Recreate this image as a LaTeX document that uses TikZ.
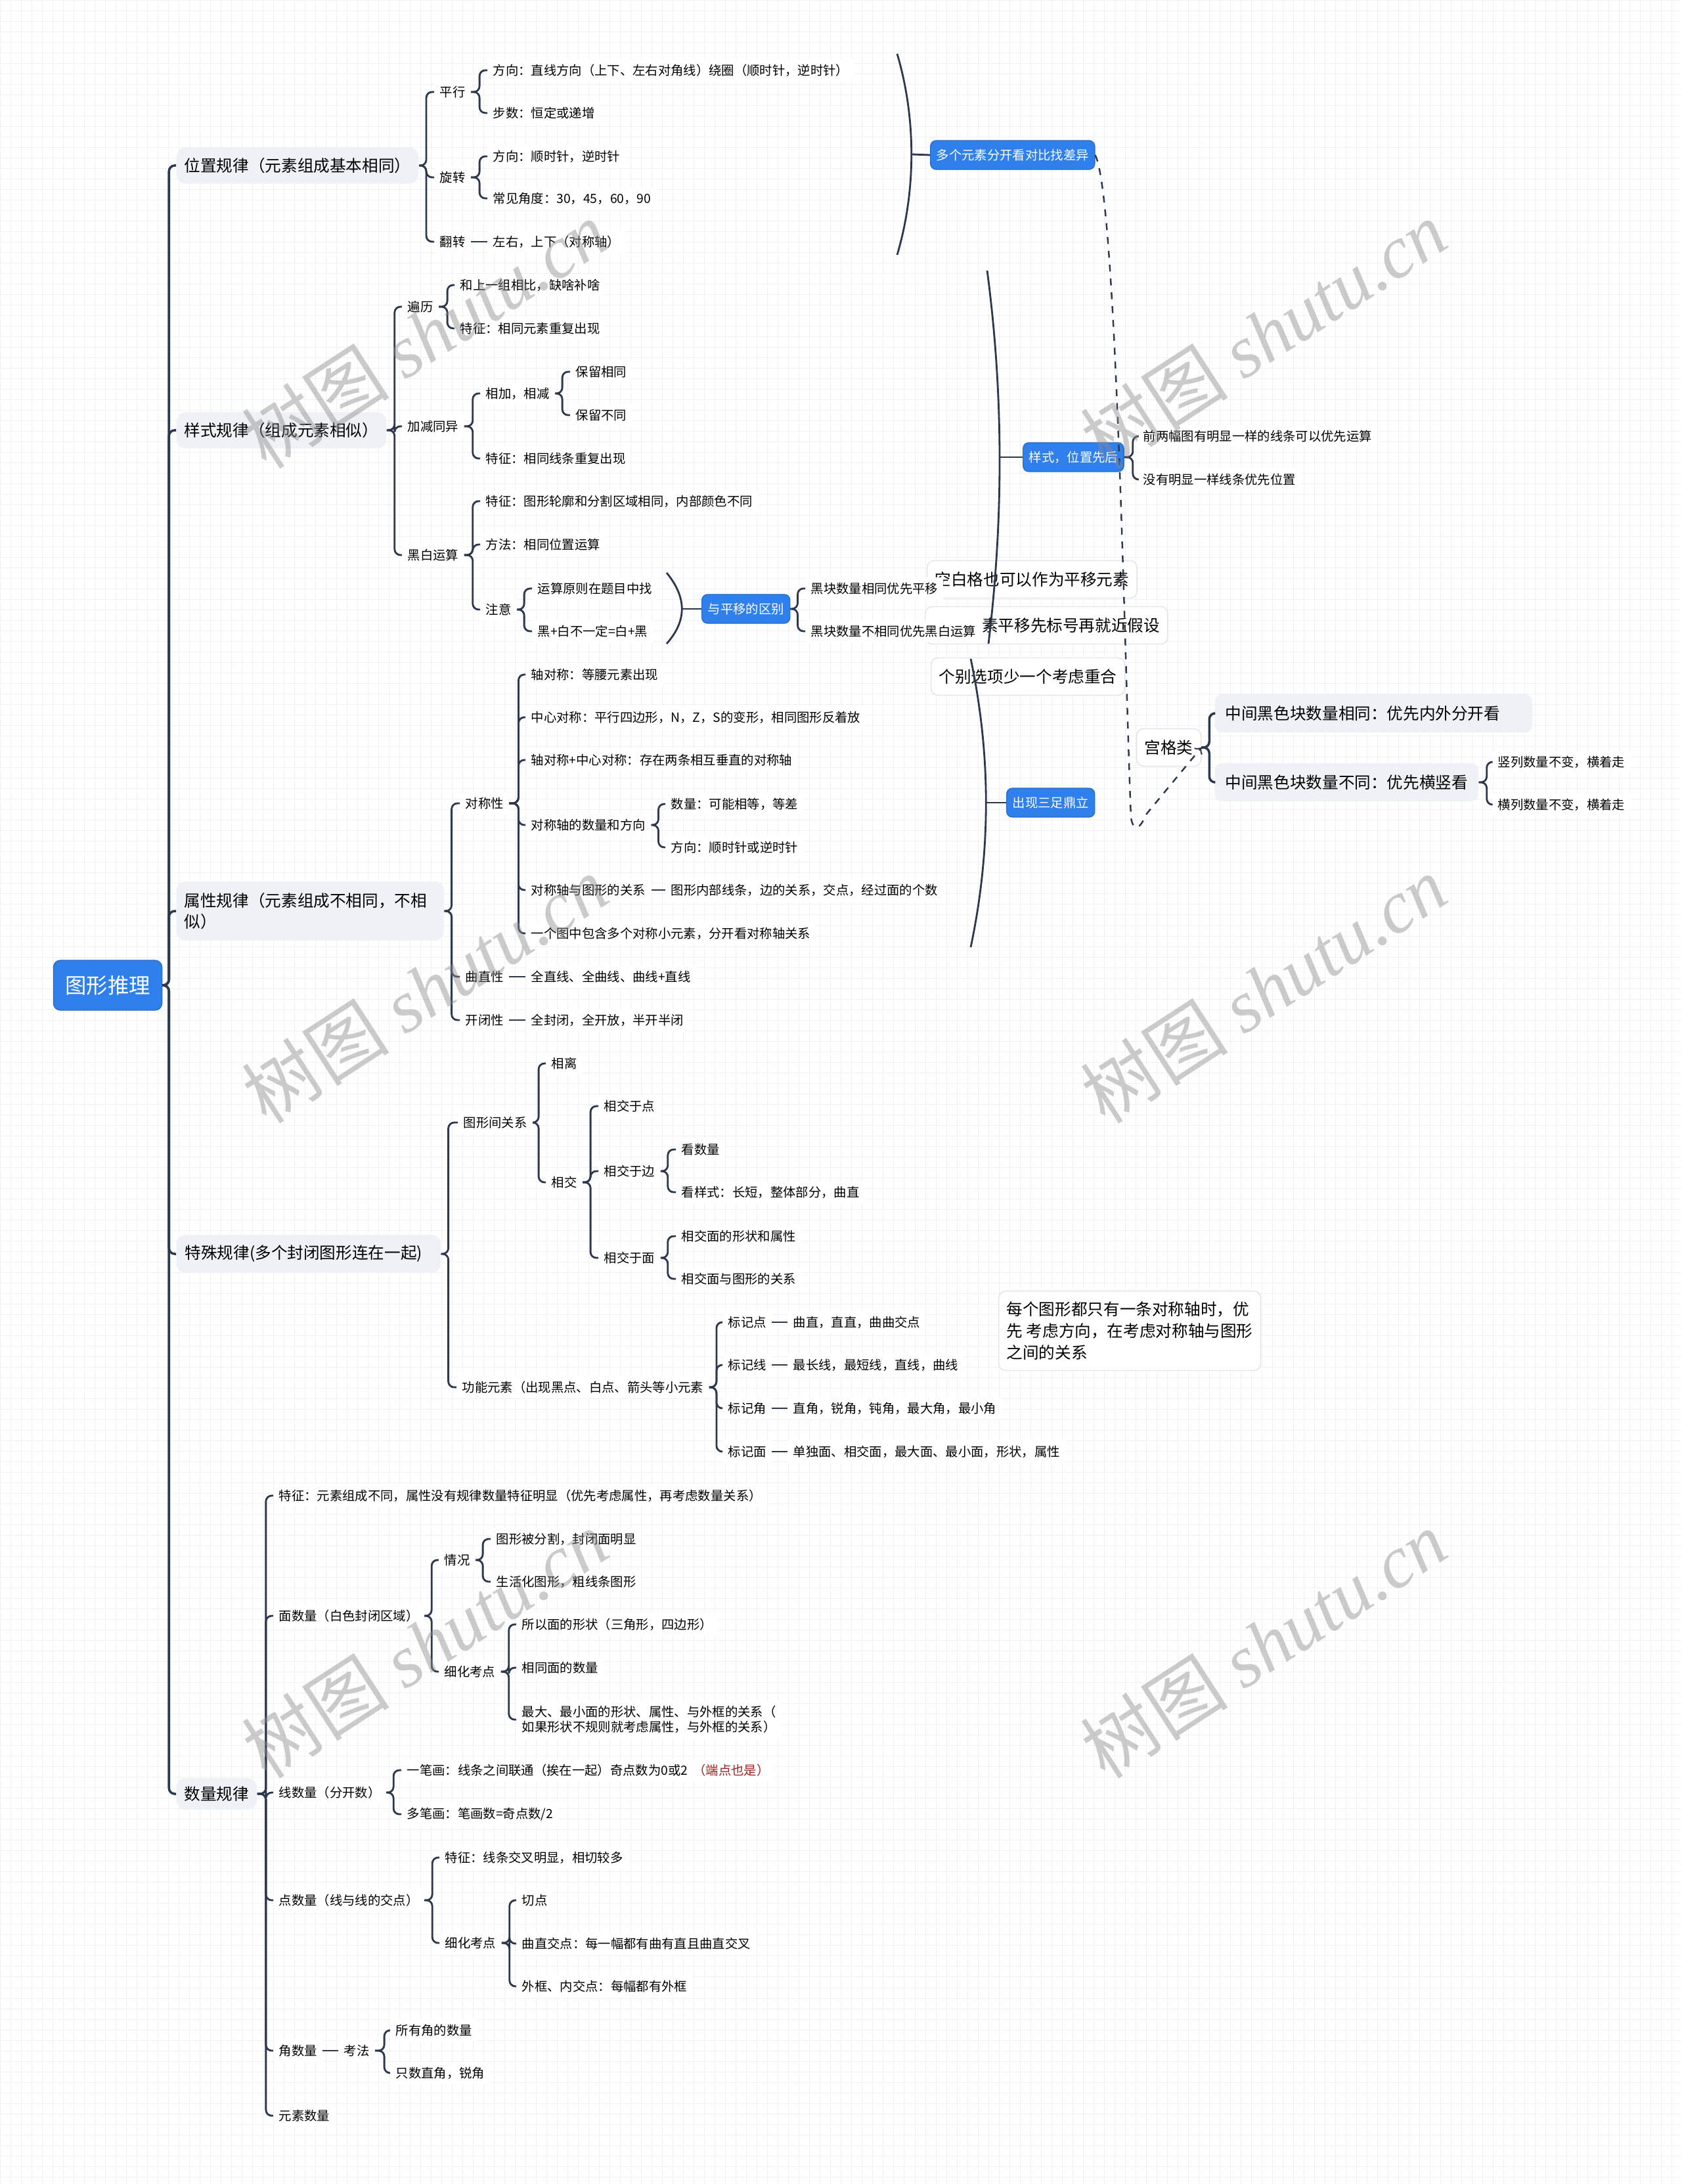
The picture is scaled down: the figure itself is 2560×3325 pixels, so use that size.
\documentclass[tikz,border=0pt]{standalone}
\usepackage{fontspec}
\setmainfont{Noto Sans CJK SC}
\newfontfamily\markfont{Liberation Serif}
\usepackage{xcolor}

\definecolor{mblue}{RGB}{47,128,237}
\definecolor{mgray}{RGB}{238,241,245}
\definecolor{mline}{RGB}{44,56,78}
\definecolor{mrim}{RGB}{224,228,234}
\definecolor{mgrid}{RGB}{239,241,244}
\definecolor{mred}{RGB}{165,30,30}

\tikzset{
  rootbox/.style={fill=mblue, draw=mblue!85!black, rounded corners=3pt, text=white,
    font=\fontsize{9.2}{11}\selectfont, minimum width=1.65cm, minimum height=0.76cm, inner sep=0pt},
  topic/.style={anchor=west, fill=mgray, rounded corners=4pt, font=\fontsize{7}{9}\selectfont,
    inner xsep=0.12cm, minimum height=0.55cm},
  leaf/.style={anchor=west, fill=white, font=\fontsize{5.5}{6.5}\selectfont, inner xsep=0.08cm, inner ysep=0.08cm},
  bluebox/.style={anchor=west, fill=mblue, draw=mblue!85!black, rounded corners=2.5pt, text=white,
    font=\fontsize{5.5}{6.5}\selectfont, inner xsep=0.09cm, minimum height=0.44cm},
  midbox/.style={anchor=west, fill=mgray, rounded corners=3pt, font=\fontsize{7}{9}\selectfont,
    inner xsep=0.16cm, minimum height=0.58cm},
  notebox/.style={anchor=west, fill=white, draw=mrim, rounded corners=3pt, font=\fontsize{7}{9.4}\selectfont,
    inner xsep=0.12cm, minimum height=0.57cm},
  branch/.style={draw=mline, line width=0.8pt, rounded corners=2.5pt},
  spine/.style={branch, line width=1pt},
  sumline/.style={draw=mline, line width=0.8pt},
  markword/.style={rotate=33, text=black!45, text opacity=0.45, font=\fontsize{32}{32}\selectfont}
}

\begin{document}
\begin{tikzpicture}[x=0.01cm,y=-0.01cm]
\useasboundingbox (0,0) rectangle (2560,3325);
\fill[white] (0,0) rectangle (2560,3325);
\draw[mgrid, line width=0.2pt, step=0.16cm] (0,3325) grid (2560,0);

% notes lying under the map
\node[notebox] (tip1) at (1411,882) {空白格也可以作为平移元素};
\node[notebox, text width=3.45cm, align=right] (tip2) at (1408,952) {素平移先标号再就近假设};
\node[notebox] (tip3) at (1417,1030) {个别选项少一个考虑重合};
\node[notebox, align=left, inner ysep=0.16cm] (tip4) at (1520,2026) {每个图形都只有一条对称轴时，优\\先 考虑方向，在考虑对称轴与图形\\之间的关系};

% root and main topics
\node[rootbox] (root) at (164,1500) {图形推理};
\node[topic] (pos) at (268,252) {位置规律（元素组成基本相同）};
\node[topic] (sty) at (268,655) {样式规律（组成元素相似）};
\node[topic, text width=3.83cm, align=left, minimum height=0.9cm] (attr) at (268,1387) {属性规律（元素组成不相同，不相\\似）};
\node[topic, text width=3.76cm, align=left, inner xsep=0.13cm, minimum height=0.58cm] (spec) at (268,1909) {特殊规律(多个封闭图形连在一起)};
\node[topic, minimum height=0.48cm] (num) at (268,2731) {数量规律};

% position
\node[leaf] (pingxing) at (661,140) {平行};
\node[leaf] (px1) at (742,107) {方向：直线方向（上下、左右对角线）绕圈（顺时针，逆时针）};
\node[leaf] (px2) at (742,172) {步数：恒定或递增};
\node[leaf] (xuanzhuan) at (661,270) {旋转};
\node[leaf] (xz1) at (742,238) {方向：顺时针，逆时针};
\node[leaf] (xz2) at (742,302) {常见角度：30，45，60，90};
\node[leaf] (fanzhuan) at (661,368) {翻转};
\node[leaf] (fz1) at (742,368) {左右，上下（对称轴）};
\node[bluebox] (split) at (1416,236) {多个元素分开看对比找差异};

% style
\node[leaf] (bianli) at (612,467) {遍历};
\node[leaf] (bl1) at (692,434) {和上一组相比，缺啥补啥};
\node[leaf] (bl2) at (692,500) {特征：相同元素重复出现};
\node[leaf] (jiajian) at (612,649) {加减同异};
\node[leaf] (jj1) at (731,599) {相加，相减};
\node[leaf] (jj11) at (868,566) {保留相同};
\node[leaf] (jj12) at (868,632) {保留不同};
\node[leaf] (jj2) at (731,698) {特征：相同线条重复出现};
\node[leaf] (heibai) at (612,845) {黑白运算};
\node[leaf] (hb1) at (731,763) {特征：图形轮廓和分割区域相同，内部颜色不同};
\node[leaf] (hb2) at (731,829) {方法：相同位置运算};
\node[leaf] (hb3) at (731,928) {注意};
\node[leaf] (hb31) at (810,896) {运算原则在题目中找};
\node[leaf] (hb32) at (810,961) {黑+白不一定=白+黑};
\node[bluebox] (diff) at (1068,927) {与平移的区别};
\node[leaf] (df1) at (1226,896) {黑块数量相同优先平移};
\node[leaf] (df2) at (1226,961) {黑块数量不相同优先黑白运算};
\node[bluebox] (order) at (1557,696) {样式，位置先后};
\node[leaf] (od1) at (1732,664) {前两幅图有明显一样的线条可以优先运算};
\node[leaf] (od2) at (1732,730) {没有明显一样线条优先位置};

% attribute
\node[leaf] (sym) at (700,1223) {对称性};
\node[leaf] (sym1) at (800,1027) {轴对称：等腰元素出现};
\node[leaf] (sym2) at (800,1092) {中心对称：平行四边形，N，Z，S的变形，相同图形反着放};
\node[leaf] (sym3) at (800,1157) {轴对称+中心对称：存在两条相互垂直的对称轴};
\node[leaf] (sym4) at (800,1256) {对称轴的数量和方向};
\node[leaf] (sym41) at (1013,1224) {数量：可能相等，等差};
\node[leaf] (sym42) at (1013,1290) {方向：顺时针或逆时针};
\node[leaf] (sym5) at (800,1355) {对称轴与图形的关系};
\node[leaf] (sym51) at (1013,1355) {图形内部线条，边的关系，交点，经过面的个数};
\node[leaf] (sym6) at (800,1421) {一个图中包含多个对称小元素，分开看对称轴关系};
\node[leaf] (curve) at (700,1487) {曲直性};
\node[leaf] (curve1) at (800,1487) {全直线、全曲线、曲线+直线};
\node[leaf] (closed) at (700,1553) {开闭性};
\node[leaf] (closed1) at (800,1553) {全封闭，全开放，半开半闭};
\node[bluebox] (tripod) at (1532,1222) {出现三足鼎立};
\node[notebox, minimum height=0.57cm] (gongge) at (1730,1138) {宫格类};
\node[midbox, text width=4.51cm] (gg1) at (1849,1086) {中间黑色块数量相同：优先内外分开看};
\node[midbox] (gg2) at (1849,1191) {中间黑色块数量不同：优先横竖看};
\node[leaf] (gg21) at (2272,1160) {竖列数量不变，横着走};
\node[leaf] (gg22) at (2272,1225) {横列数量不变，横着走};

% special
\node[leaf] (rel) at (697,1709) {图形间关系};
\node[leaf] (apart) at (831,1619) {相离};
\node[leaf] (cross) at (831,1800) {相交};
\node[leaf] (crp) at (911,1684) {相交于点};
\node[leaf] (cre) at (911,1783) {相交于边};
\node[leaf] (cre1) at (1029,1750) {看数量};
\node[leaf] (cre2) at (1029,1815) {看样式：长短，整体部分，曲直};
\node[leaf] (crf) at (911,1915) {相交于面};
\node[leaf] (crf1) at (1029,1882) {相交面的形状和属性};
\node[leaf] (crf2) at (1029,1947) {相交面与图形的关系};
\node[leaf] (func) at (695,2112) {功能元素（出现黑点、白点、箭头等小元素};
\node[leaf] (mk1) at (1100,2013) {标记点};
\node[leaf] (mk1a) at (1199,2013) {曲直，直直，曲曲交点};
\node[leaf] (mk2) at (1100,2078) {标记线};
\node[leaf] (mk2a) at (1199,2078) {最长线，最短线，直线，曲线};
\node[leaf] (mk3) at (1100,2144) {标记角};
\node[leaf] (mk3a) at (1199,2144) {直角，锐角，钝角，最大角，最小角};
\node[leaf] (mk4) at (1100,2210) {标记面};
\node[leaf] (mk4a) at (1199,2210) {单独面、相交面，最大面、最小面，形状，属性};

% number
\node[leaf] (qfeat) at (416,2277) {特征：元素组成不同，属性没有规律数量特征明显（优先考虑属性，再考虑数量关系）};
\node[leaf] (qarea) at (416,2460) {面数量（白色封闭区域）};
\node[leaf] (qcase) at (668,2375) {情况};
\node[leaf] (qcase1) at (747,2343) {图形被分割，封闭面明显};
\node[leaf] (qcase2) at (747,2408) {生活化图形，粗线条图形};
\node[leaf] (qdet) at (668,2545) {细化考点};
\node[leaf] (qdet1) at (786,2473) {所以面的形状（三角形，四边形）};
\node[leaf] (qdet2) at (786,2539) {相同面的数量};
\node[leaf, align=left] (qdet3) at (786,2618) {最大、最小面的形状、属性、与外框的关系（\\如果形状不规则就考虑属性，与外框的关系）};
\node[leaf] (qline) at (416,2729) {线数量（分开数）};
\node[leaf] (qline1) at (611,2695) {一笔画：线条之间联通（挨在一起）奇点数为0或2\hspace{0.08cm}\textcolor{mred}{（端点也是）}};
\node[leaf] (qline2) at (611,2762) {多笔画：笔画数=奇点数/2};
\node[leaf] (qpoint) at (416,2893) {点数量（线与线的交点）};
\node[leaf] (qpt1) at (669,2828) {特征：线条交叉明显，相切较多};
\node[leaf] (qpt2) at (669,2958) {细化考点};
\node[leaf] (qpt21) at (786,2893) {切点};
\node[leaf] (qpt22) at (786,2959) {曲直交点：每一幅都有曲有直且曲直交叉};
\node[leaf] (qpt23) at (786,3024) {外框、内交点：每幅都有外框};
\node[leaf] (qangle) at (416,3122) {角数量};
\node[leaf] (kaofa) at (515,3122) {考法};
\node[leaf] (kf1) at (594,3091) {所有角的数量};
\node[leaf] (kf2) at (594,3156) {只数直角，锐角};
\node[leaf] (qelem) at (416,3221) {元素数量};

% braces
\foreach \ch in {pos,sty,attr,spec,num}
  \draw[spine] (root.east) -- ++(10,0) |- (\ch.west);
\foreach \ch in {pingxing,xuanzhuan,fanzhuan}
  \draw[branch] (pos.east) -- ++(11,0) |- (\ch.west);
\foreach \ch in {px1,px2} \draw[branch] (pingxing.east) -- ++(13,0) |- (\ch.west);
\foreach \ch in {xz1,xz2} \draw[branch] (xuanzhuan.east) -- ++(13,0) |- (\ch.west);
\draw[branch] (fanzhuan.east) -- (fz1.west);

\foreach \ch in {bianli,jiajian,heibai}
  \draw[branch] (sty.east) -- ++(12,0) |- (\ch.west);
\foreach \ch in {bl1,bl2} \draw[branch] (bianli.east) -- ++(13,0) |- (\ch.west);
\foreach \ch in {jj1,jj2} \draw[branch] (jiajian.east) -- ++(13,0) |- (\ch.west);
\foreach \ch in {jj11,jj12} \draw[branch] (jj1.east) -- ++(11,0) |- (\ch.west);
\foreach \ch in {hb1,hb2,hb3} \draw[branch] (heibai.east) -- ++(13,0) |- (\ch.west);
\foreach \ch in {hb31,hb32} \draw[branch] (hb3.east) -- ++(11,0) |- (\ch.west);
\foreach \ch in {df1,df2} \draw[branch] (diff.east) -- ++(11,0) |- (\ch.west);
\foreach \ch in {od1,od2} \draw[branch] (order.east) -- ++(13,0) |- (\ch.west);

\foreach \ch in {sym,curve,closed}
  \draw[branch] (attr.east) -- ++(11,0) |- (\ch.west);
\foreach \ch in {sym1,sym2,sym3,sym4,sym5,sym6}
  \draw[branch] (sym.east) -- ++(14,0) |- (\ch.west);
\foreach \ch in {sym41,sym42} \draw[branch] (sym4.east) -- ++(11,0) |- (\ch.west);
\draw[branch] (sym5.east) -- (sym51.west);
\draw[branch] (curve.east) -- (curve1.west);
\draw[branch] (closed.east) -- (closed1.west);
\foreach \ch in {gg1,gg2} \draw[branch, line width=1pt] (gongge.east) -- ++(12,0) |- (\ch.west);
\foreach \ch in {gg21,gg22} \draw[branch] (gg2.east) -- ++(12,0) |- (\ch.west);

\foreach \ch in {rel,func} \draw[branch] (spec.east) -- ++(11,0) |- (\ch.west);
\foreach \ch in {apart,cross} \draw[branch] (rel.east) -- ++(9,0) |- (\ch.west);
\foreach \ch in {crp,cre,crf} \draw[branch] (cross.east) -- ++(12,0) |- (\ch.west);
\foreach \ch in {cre1,cre2} \draw[branch] (cre.east) -- ++(11,0) |- (\ch.west);
\foreach \ch in {crf1,crf2} \draw[branch] (crf.east) -- ++(11,0) |- (\ch.west);
\foreach \ch in {mk1,mk2,mk3,mk4} \draw[branch] (func.east) -- ++(11,0) |- (\ch.west);
\foreach \a/\b in {mk1/mk1a,mk2/mk2a,mk3/mk3a,mk4/mk4a} \draw[branch] (\a.east) -- (\b.west);

\foreach \ch in {qfeat,qarea,qline,qpoint,qangle,qelem}
  \draw[branch] (num.east) -- ++(13,0) |- (\ch.west);
\foreach \ch in {qcase,qdet} \draw[branch] (qarea.east) -- ++(11,0) |- (\ch.west);
\foreach \ch in {qcase1,qcase2} \draw[branch] (qcase.east) -- ++(11,0) |- (\ch.west);
\foreach \ch in {qdet1,qdet2,qdet3} \draw[branch] (qdet.east) -- ++(12,0) |- (\ch.west);
\foreach \ch in {qline1,qline2} \draw[branch] (qline.east) -- ++(11,0) |- (\ch.west);
\foreach \ch in {qpt1,qpt2} \draw[branch] (qpoint.east) -- ++(12,0) |- (\ch.west);
\foreach \ch in {qpt21,qpt22,qpt23} \draw[branch] (qpt2.east) -- ++(12,0) |- (\ch.west);
\draw[branch] (qangle.east) -- (kaofa.west);
\foreach \ch in {kf1,kf2} \draw[branch] (kaofa.east) -- ++(14,0) |- (\ch.west);

% summary brackets
\draw[sumline] (1366,82) .. controls (1395,180) and (1395,290) .. (1366,388);
\coordinate (sumPos) at (1388,235);
\draw[branch] (sumPos) -- (split.west);
\draw[sumline] (1015,872) .. controls (1046,910) and (1046,945) .. (1015,980);
\coordinate (sumNote) at (1038,927);
\draw[branch] (sumNote) -- (diff.west);
\draw[sumline] (1503,412) .. controls (1528,600) and (1528,790) .. (1505,980);
\coordinate (sumSty) at (1522,696);
\draw[branch] (sumSty) -- (order.west);
\draw[sumline] (1478,1003) .. controls (1509,1150) and (1509,1295) .. (1478,1442);
\coordinate (sumSym) at (1501,1222);
\draw[branch] (sumSym) -- (tripod.west);

% link to the grid case
\draw[mline, line width=0.7pt, dashed, ->] (split.east) .. controls (1700,300) and (1712,1000) .. (1722,1245)
  .. controls (1726,1268) and (1736,1262) .. (1745,1240) -- (gongge.east);

% watermark
\foreach \wx in {647,1924}
  \foreach \wy in {509,1506,2503}
    \node[markword] (wm-\wx-\wy) at (\wx,\wy) {树图 {\markfont\itshape shutu.cn}};
\end{tikzpicture}
\end{document}
